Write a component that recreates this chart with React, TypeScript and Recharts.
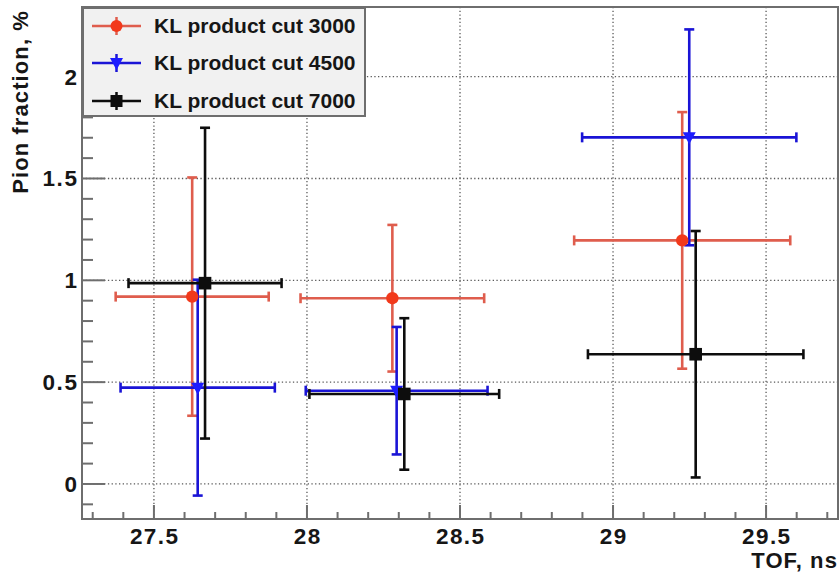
import React from 'react';
import {
  ScatterChart,
  Scatter,
  XAxis,
  YAxis,
  CartesianGrid,
  ErrorBar,
  ReferenceArea,
  Legend,
  Label,
} from 'recharts';

// ---- data (TOF in ns, pion fraction in %) ----
const seriesNames = ['KL product cut 3000', 'KL product cut 4500', 'KL product cut 7000'];

const tof3000 = [27.625, 28.279, 29.226];
const frac3000 = [0.92, 0.912, 1.196];
const tofErr3000 = [0.25, 0.3, 0.353];
const fracErr3000 = [0.585, 0.36, 0.63];

const tof4500 = [27.643, 28.293, 29.249];
const frac4500 = [0.473, 0.458, 1.702];
const tofErr4500 = [0.252, 0.297, 0.35];
const fracErr4500 = [0.53, 0.313, 0.53];

const tof7000 = [27.667, 28.318, 29.27];
const frac7000 = [0.986, 0.442, 0.637];
const tofErr7000 = [0.25, 0.31, 0.352];
const fracErr7000 = [0.763, 0.372, 0.605];

// ---- axes ----
const xDomain = [27.265, 29.735];
const yDomain = [-0.172, 2.342];
const xMajor = [27.5, 28, 28.5, 29, 29.5];
const xMinor = [27.3, 27.4, 27.6, 27.7, 27.8, 27.9, 28.1, 28.2, 28.3, 28.4, 28.6, 28.7, 28.8, 28.9, 29.1, 29.2, 29.3, 29.4, 29.6, 29.7];
const yMajor = [0, 0.5, 1, 1.5, 2];
const yMinor = [-0.1, 0.1, 0.2, 0.3, 0.4, 0.6, 0.7, 0.8, 0.9, 1.1, 1.2, 1.3, 1.4, 1.6, 1.7, 1.8, 1.9, 2.1, 2.2, 2.3];
const xTitle = 'TOF, ns';
const yTitle = 'Pion fraction, %';

const build = (xs: number[], ys: number[], exs: number[], eys: number[]) =>
  xs.map((x, i) => ({ x, y: ys[i], ex: exs[i], ey: eys[i] }));

const data3000 = build(tof3000, frac3000, tofErr3000, fracErr3000);
const data4500 = build(tof4500, frac4500, tofErr4500, fracErr4500);
const data7000 = build(tof7000, frac7000, tofErr7000, fracErr7000);

const FONT = '"Liberation Sans", Arial, Helvetica, sans-serif';
const AXIS = '#6e6e6e';
const TEXT = '#161616';

const RED_MARK = '#f2391b';
const RED_BAR = '#df5d4d';
const BLUE_MARK = '#1c1cff';
const BLUE_BAR = '#1a14d6';
const BLACK = '#0d0d0d';

const sorted = (a: number[], b: number[]) => [...a, ...b].sort((p, q) => p - q);
const xTicks = sorted(xMajor, xMinor);
const yTicks = sorted(yMajor, yMinor);

const XTick = (props: any) => {
  const { x, y, payload } = props;
  const major = xMajor.includes(payload.value);
  return (
    <g>
      <line x1={x} x2={x} y1={y} y2={y - (major ? 14 : 7)} stroke={AXIS} strokeWidth={2} />
      {major && (
        <text x={x + 0.7} y={y + 24.5} textAnchor="middle" fontFamily={FONT} fontWeight="bold" fontSize={22.5} letterSpacing={1.4} fill={TEXT}>
          {String(payload.value)}
        </text>
      )}
    </g>
  );
};

const YTick = (props: any) => {
  const { x, y, payload } = props;
  const major = yMajor.includes(payload.value);
  return (
    <g>
      <line x1={x} x2={x + (major ? 23 : 11)} y1={y} y2={y} stroke={AXIS} strokeWidth={2} />
      {major && (
        <text x={x - 3.5} y={y + 8} textAnchor="end" fontFamily={FONT} fontWeight="bold" fontSize={22.5} letterSpacing={1.6} fill={TEXT}>
          {String(payload.value)}
        </text>
      )}
    </g>
  );
};

const CircleShape = (props: any) => <circle cx={props.cx} cy={props.cy} r={6.2} fill={RED_MARK} />;
const TriangleDownShape = (props: any) => {
  const { cx, cy } = props;
  return <path d={`M${cx - 6.5},${cy - 5} L${cx + 6.5},${cy - 5} L${cx},${cy + 7} Z`} fill={BLUE_MARK} />;
};
const SquareShape = (props: any) => <rect x={props.cx - 6.3} y={props.cy - 6.3} width={12.6} height={12.6} fill={BLACK} />;

const legendItems = [
  { name: seriesNames[0], bar: RED_BAR, mark: RED_MARK, kind: 'circle' },
  { name: seriesNames[1], bar: BLUE_BAR, mark: BLUE_MARK, kind: 'tri' },
  { name: seriesNames[2], bar: BLACK, mark: BLACK, kind: 'square' },
];

const LegendIcon = ({ bar, mark, kind }: any) => (
  <svg width={54} height={24} style={{ display: 'block' }}>
    <line x1={2} x2={51} y1={12} y2={12} stroke={bar} strokeWidth={2.5} />
    <line x1={26.5} x2={26.5} y1={3} y2={21} stroke={bar} strokeWidth={2.5} />
    {kind === 'circle' && <circle cx={26.5} cy={12} r={6} fill={mark} />}
    {kind === 'tri' && <path d="M20,7 L33,7 L26.5,19 Z" fill={mark} />}
    {kind === 'square' && <rect x={20.5} y={6} width={12} height={12} fill={mark} />}
  </svg>
);

const LegendBox = () => (
  <div
    style={{
      width: 284,
      height: 110,
      boxSizing: 'border-box',
      border: `2px solid ${AXIS}`,
      background: '#f1f1f1',
      position: 'relative',
      fontFamily: FONT,
    }}
  >
    {legendItems.map((it, i) => (
      <div
        key={it.name}
        style={{ position: 'absolute', left: 6, top: 4.5 + i * 37.5, height: 24, display: 'flex', alignItems: 'center' }}
      >
        <LegendIcon {...it} />
        <span style={{ marginLeft: 10, fontWeight: 'bold', fontSize: 21, color: TEXT, whiteSpace: 'nowrap', lineHeight: '24px' }}>
          {it.name}
        </span>
      </div>
    ))}
  </div>
);

const YTitle = (props: any) => {
  const vb = props.viewBox || { x: 0, y: 7 };
  const x = 28;
  const y = (vb.y ?? 7) + 3;
  return (
    <text
      x={x}
      y={y}
      transform={`rotate(-90, ${x}, ${y})`}
      textAnchor="end"
      fontFamily={FONT}
      fontWeight="bold"
      fontSize={22}
      letterSpacing={1.1}
      fill={TEXT}
    >
      {yTitle}
    </text>
  );
};

const XTitle = (props: any) => {
  const vb = props.viewBox || { x: 82, y: 519, width: 756 };
  const x = vb.x + vb.width;
  const y = vb.y + 49;
  return (
    <text x={x} y={y} textAnchor="end" fontFamily={FONT} fontWeight="bold" fontSize={22} letterSpacing={1.1} fill={TEXT}>
      {xTitle}
    </text>
  );
};

export default function App() {
  return (
    <div style={{ position: 'absolute', left: 0, top: 0, width: 840, height: 573, background: '#fff' }}>
      <ScatterChart width={840} height={573} margin={{ top: 7, right: 2, bottom: 0, left: 0 }}>
        <CartesianGrid
          horizontalValues={yMajor}
          verticalValues={xMajor}
          stroke="#5a5a5a"
          strokeWidth={1.3}
          strokeDasharray="1.3 2.4"
        />
        <XAxis
          type="number"
          dataKey="x"
          domain={xDomain}
          allowDataOverflow
          ticks={xTicks}
          interval={0}
          tickSize={0}
          tickMargin={0}
          tickLine={false}
          axisLine={{ stroke: AXIS, strokeWidth: 2 }}
          tick={(p: any) => <XTick {...p} />}
          height={54}
        >
          <Label content={(p: any) => <XTitle {...p} />} />
        </XAxis>
        <YAxis
          type="number"
          dataKey="y"
          domain={yDomain}
          allowDataOverflow
          ticks={yTicks}
          interval={0}
          tickSize={0}
          tickMargin={0}
          tickLine={false}
          axisLine={{ stroke: AXIS, strokeWidth: 2 }}
          tick={(p: any) => <YTick {...p} />}
          width={82}
        >
          <Label content={(p: any) => <YTitle {...p} />} />
        </YAxis>
        <ReferenceArea
          x1={xDomain[0]}
          x2={xDomain[1]}
          y1={yDomain[0]}
          y2={yDomain[1]}
          fill="none"
          fillOpacity={0}
          stroke={AXIS}
          strokeWidth={2}
        />
        <Scatter name={seriesNames[0]} data={data3000} shape={CircleShape} isAnimationActive={false}>
          <ErrorBar dataKey="ex" direction="x" width={5} stroke={RED_BAR} strokeWidth={2.6} isAnimationActive={false} />
          <ErrorBar dataKey="ey" direction="y" width={5} stroke={RED_BAR} strokeWidth={2.6} isAnimationActive={false} />
        </Scatter>
        <Scatter name={seriesNames[1]} data={data4500} shape={TriangleDownShape} isAnimationActive={false}>
          <ErrorBar dataKey="ex" direction="x" width={5} stroke={BLUE_BAR} strokeWidth={2.6} isAnimationActive={false} />
          <ErrorBar dataKey="ey" direction="y" width={5} stroke={BLUE_BAR} strokeWidth={2.6} isAnimationActive={false} />
        </Scatter>
        <Scatter name={seriesNames[2]} data={data7000} shape={SquareShape} isAnimationActive={false}>
          <ErrorBar dataKey="ex" direction="x" width={5} stroke={BLACK} strokeWidth={2.6} isAnimationActive={false} />
          <ErrorBar dataKey="ey" direction="y" width={5} stroke={BLACK} strokeWidth={2.6} isAnimationActive={false} />
        </Scatter>
        <Legend
          layout="horizontal"
          verticalAlign="middle"
          align="center"
          width={284}
          height={110}
          wrapperStyle={{ left: 82, top: 7, width: 284, height: 110 }}
          content={() => <LegendBox />}
        />
      </ScatterChart>
    </div>
  );
}
